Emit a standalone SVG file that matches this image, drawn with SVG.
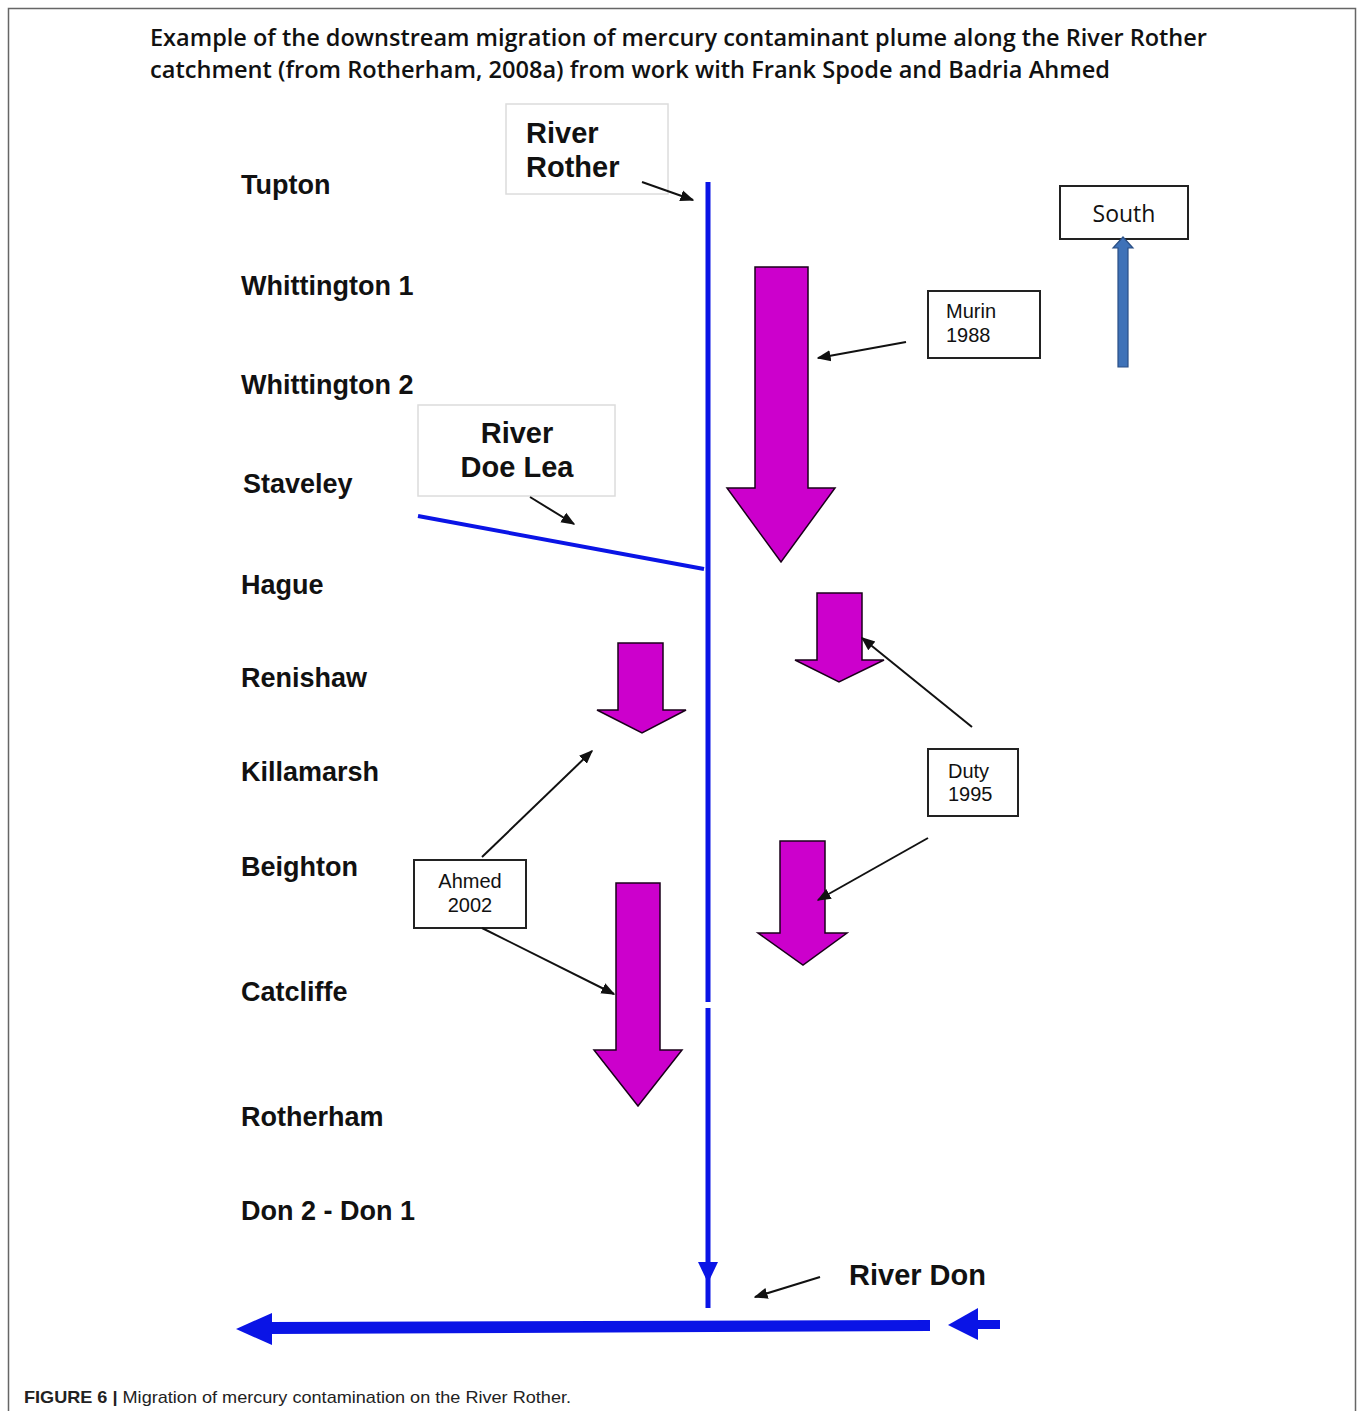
<svg xmlns="http://www.w3.org/2000/svg" width="1358" height="1411" viewBox="0 0 1358 1411">
<defs>
<style>
.place{font-family:"Liberation Sans",Arial,sans-serif;font-weight:bold;font-size:27px;fill:#111}
.river{font-family:"Liberation Sans",Arial,sans-serif;font-weight:bold;font-size:29px;fill:#111}
.small{font-family:"Liberation Sans",Arial,sans-serif;font-size:20px;fill:#111}
.title{font-family:"Open Sans","DejaVu Sans",sans-serif;font-weight:600;font-size:23px;fill:#111}
.lbl{fill:#fff;stroke:#222;stroke-width:2}
.faint{fill:#fff;stroke:#dcdcdc;stroke-width:1.5}
.plume{fill:#cc00cc;stroke:#1a001a;stroke-width:1.5}
.ptr{stroke:#111;stroke-width:2;fill:none;marker-end:url(#ah)}
.blue{stroke:#0a14e6;fill:none}
</style>
<marker id="ah" viewBox="0 0 10 10" refX="9" refY="5" markerWidth="7" markerHeight="7" orient="auto" markerUnits="strokeWidth">
<path d="M0,1 L10,5 L0,9 z" fill="#111"/>
</marker>
</defs>
<rect x="0" y="0" width="1358" height="1411" fill="#fff"/>
<path d="M8.5,1411 V8.5 H1355.5 V1411" fill="none" stroke="#666" stroke-width="1.5"/>
<text class="title" x="150" y="46" textLength="1057" lengthAdjust="spacingAndGlyphs">Example of the downstream migration of mercury contaminant plume along the River Rother</text>
<text class="title" x="150" y="78" textLength="960" lengthAdjust="spacingAndGlyphs">catchment (from Rotherham, 2008a) from work with Frank Spode and Badria Ahmed</text>

<g id="places">
<text class="place" x="241" y="194">Tupton</text>
<text class="place" x="241" y="295">Whittington 1</text>
<text class="place" x="241" y="394">Whittington 2</text>
<text class="place" x="243" y="493">Staveley</text>
<text class="place" x="241" y="594">Hague</text>
<text class="place" x="241" y="687">Renishaw</text>
<text class="place" x="241" y="781">Killamarsh</text>
<text class="place" x="241" y="876">Beighton</text>
<text class="place" x="241" y="1001">Catcliffe</text>
<text class="place" x="241" y="1126">Rotherham</text>
<text class="place" x="241" y="1220">Don 2 - Don 1</text>
</g>

<g id="rivers">
<path class="blue" d="M708,182 V1002 M708,1008 V1308" stroke-width="5"/>
<path d="M698,1262 L718,1262 L708,1283 z" fill="#0a14e6"/>
<path class="blue" d="M418,516 L704,569" stroke-width="4"/>
<path d="M270,1322 L930,1320 L930,1331 L270,1334 z" fill="#0a14e6"/>
<path d="M236,1329 L272,1313 L272,1345 z" fill="#0a14e6"/>
<path d="M948,1325 L978,1308 L978,1340 z" fill="#0a14e6"/>
<rect x="976" y="1320" width="24" height="9" fill="#0a14e6"/>
</g>

<g id="rother-label">
<rect class="faint" x="506" y="104" width="162" height="90"/>
<text class="river" x="526" y="143">River</text>
<text class="river" x="526" y="177">Rother</text>
</g>
<g id="doelea-label">
<rect class="faint" x="418" y="405" width="197" height="91"/>
<text class="river" x="517" y="443" text-anchor="middle">River</text>
<text class="river" x="517" y="477" text-anchor="middle">Doe Lea</text>
</g>
<g id="don-label">
<text class="river" x="849" y="1285">River Don</text>
</g>

<g id="south">
<rect class="lbl" x="1060" y="186" width="128" height="53"/>
<text x="1124" y="222" text-anchor="middle" style="font-family:'Open Sans','Liberation Sans',sans-serif;font-size:23px;fill:#111">South</text>
<path d="M1118,367 V248 H1113 L1123,237 L1133,248 H1128 V367 z" fill="#3f72b8" stroke="#2a4f85" stroke-width="1.2"/>
</g>

<g id="murin">
<rect class="lbl" x="928" y="291" width="112" height="67"/>
<text class="small" x="946" y="318">Murin</text>
<text class="small" x="946" y="342">1988</text>
</g>
<g id="duty">
<rect class="lbl" x="928" y="749" width="90" height="67"/>
<text class="small" x="948" y="778">Duty</text>
<text class="small" x="948" y="801">1995</text>
</g>
<g id="ahmed">
<rect class="lbl" x="414" y="860" width="112" height="68"/>
<text class="small" x="470" y="888" text-anchor="middle">Ahmed</text>
<text class="small" x="470" y="912" text-anchor="middle">2002</text>
</g>

<g id="plumes">
<path class="plume" d="M755,267 H808 V488 H835 L781,562 L727,488 H755 z"/>
<path class="plume" d="M817,593 H862 V660 H884 L839,682 L795,660 H817 z"/>
<path class="plume" d="M618,643 H663 V710 H686 L642,733 L597,710 H618 z"/>
<path class="plume" d="M780,841 H825 V933 H847 L803,965 L758,933 H780 z"/>
<path class="plume" d="M616,883 H660 V1050 H682 L638,1106 L594,1050 H616 z"/>
</g>

<g id="connectors">
<line class="ptr" x1="642" y1="182" x2="693" y2="200"/>
<line class="ptr" x1="530" y1="497" x2="574" y2="524"/>
<line class="ptr" x1="906" y1="342" x2="818" y2="358"/>
<line class="ptr" x1="972" y1="727" x2="862" y2="638"/>
<line class="ptr" x1="928" y1="838" x2="818" y2="900"/>
<line class="ptr" x1="482" y1="857" x2="592" y2="751"/>
<line class="ptr" x1="482" y1="928" x2="614" y2="994"/>
<line class="ptr" x1="820" y1="1277" x2="755" y2="1297"/>
</g>

<text x="24" y="1403" textLength="547" lengthAdjust="spacingAndGlyphs" style="font-family:'Liberation Sans',Arial,sans-serif;font-size:17px;fill:#222"><tspan font-weight="bold">FIGURE 6 | </tspan>Migration of mercury contamination on the River Rother.</text>
</svg>
